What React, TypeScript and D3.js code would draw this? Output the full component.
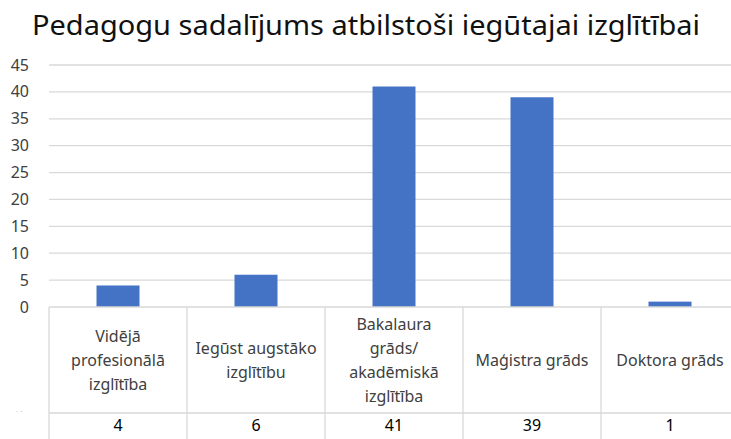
import React from "react";
import * as d3 from "d3";

const title = "Pedagogu sadalījums atbilstoši iegūtajai izglītībai";
const categories = [
  ["Vidējā", "profesionālā", "izglītība"],
  ["Iegūst augstāko", "izglītību"],
  ["Bakalaura", "grāds/", "akadēmiskā", "izglītība"],
  ["Maģistra grāds"],
  ["Doktora grāds"],
];
const counts = [4, 6, 41, 39, 1];
const yTicks = [0, 5, 10, 15, 20, 25, 30, 35, 40, 45];

const W = 731;
const H = 439;
const FONT = "'Noto Sans', 'Open Sans', sans-serif";

export default function App() {
  const left = 49;
  const right = 739;
  const top = 65;
  const bottom = 307;
  const rowSplit = 413;
  const tableBottom = 445;

  const keys = categories.map((_, i) => String(i));
  const x = d3.scaleBand().domain(keys).range([left, right]).paddingInner(0).paddingOuter(0);
  const y = d3.scaleLinear().domain([0, 45]).range([bottom, top]);
  const barW = 43;
  const grid = "#d9d9d9";
  const textCol = "#404040";

  return (
    <svg
      width={W}
      height={H}
      style={{ position: "absolute", left: 0, top: 0, background: "#fff" }}
      fontFamily={FONT}
    >
      <text x={32} y={35} fontSize={28} fill="#111" textLength={668} lengthAdjust="spacingAndGlyphs">
        {title}
      </text>

      {yTicks.map((t) => (
        <g key={t}>
          {t > 0 && (
            <line x1={left} x2={W} y1={y(t)} y2={y(t)} stroke={grid} strokeWidth={1.3} />
          )}
          <text x={29} y={y(t)} dy="0.35em" textAnchor="end" fontSize={16} fill={textCol}>
            {t}
          </text>
        </g>
      ))}

      {counts.map((v, i) => (
        <rect
          key={i}
          x={x(String(i))! + x.bandwidth() / 2 - barW / 2}
          y={y(v)}
          width={barW}
          height={y(0) - y(v)}
          fill="#4472C4"
        />
      ))}

      {/* data table */}
      <line x1={left} x2={W} y1={bottom} y2={bottom} stroke={grid} strokeWidth={1.3} />
      <line x1={left} x2={W} y1={rowSplit} y2={rowSplit} stroke={grid} strokeWidth={1.3} />
      <line x1={left} x2={left} y1={bottom} y2={tableBottom} stroke={grid} strokeWidth={1.3} />
      {keys.slice(1).map((k) => (
        <line key={k} x1={x(k)} x2={x(k)} y1={bottom} y2={tableBottom} stroke={grid} strokeWidth={1.3} />
      ))}
      <text x={16} y={rowSplit} dy="0.2em" fontSize={8} fill="#bfbfbf">· ·</text>

      {categories.map((lines, i) => {
        const cx = x(String(i))! + x.bandwidth() / 2;
        const lh = 24;
        const cy = (bottom + rowSplit) / 2;
        const y0 = cy - ((lines.length - 1) * lh) / 2;
        return (
          <text key={i} textAnchor="middle" fontSize={16} fill={textCol}>
            {lines.map((ln, j) => (
              <tspan key={j} x={cx} y={y0 + j * lh} dy="0.35em">
                {ln}
              </tspan>
            ))}
          </text>
        );
      })}

      {counts.map((v, i) => (
        <text
          key={i}
          x={x(String(i))! + x.bandwidth() / 2}
          y={425}
          dy="0.35em"
          textAnchor="middle"
          fontSize={16}
          fill="#000"
        >
          {v}
        </text>
      ))}
    </svg>
  );
}
